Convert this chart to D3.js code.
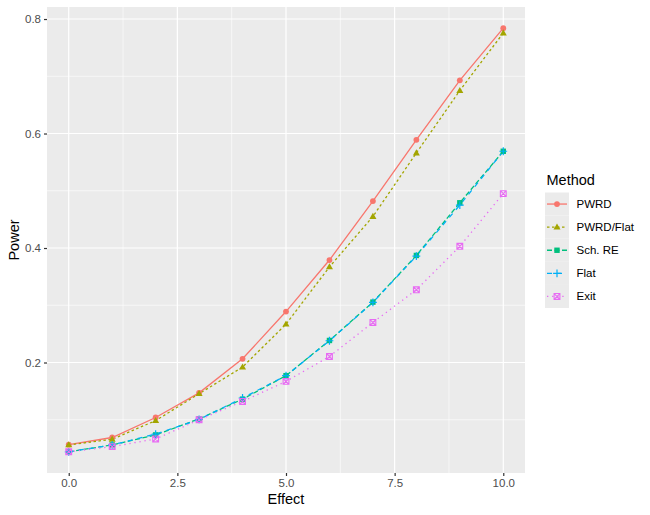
<!DOCTYPE html>
<html><head><meta charset="utf-8">
<script src="https://cdn.jsdelivr.net/npm/d3@7"></script>
<style>body{margin:0;background:#fff}svg{display:block}text{font-family:"Liberation Sans",Arial,sans-serif}</style>
</head><body><svg id="c" width="650" height="515"></svg>
<script>
const effects = [0,1,2,3,4,5,6,7,8,9,10];
const methods = ["PWRD","PWRD/Flat","Sch. RE","Flat","Exit"];
const pwrd     = [0.0565,0.069,0.104,0.147,0.2065,0.289,0.379,0.482,0.589,0.693,0.784];
const pwrdFlat = [0.056,0.066,0.0985,0.1455,0.192,0.267,0.367,0.455,0.566,0.675,0.7755];
const schRE    = [0.044,0.056,0.0735,0.1015,0.136,0.177,0.2385,0.3055,0.387,0.479,0.569];
const flat     = [0.044,0.056,0.075,0.1005,0.138,0.177,0.238,0.305,0.386,0.475,0.569];
const exitP    = [0.044,0.053,0.0665,0.100,0.132,0.167,0.2105,0.270,0.327,0.403,0.495];
const xTicks = [0,2.5,5,7.5,10];
const xTickLabels = ["0.0","2.5","5.0","7.5","10.0"];
const yTicks = [0.2,0.4,0.6,0.8];
const yTickLabels = ["0.2","0.4","0.6","0.8"];

const seriesVals = [pwrd,pwrdFlat,schRE,flat,exitP];
const colors = ["#F8766D","#A3A500","#00BF7D","#00B0F6","#E76BF3"];
const dashes = [null,"2.5,2.5","5,2.5","5,5","1.3,3.8"];
const shapes = ["circle","triangle","square","plus","squarex"];

const svg = d3.select("#c");
const L=47,R=525,T=7,B=473;
const allV = seriesVals.flat();
const vmin=d3.min(allV), vmax=d3.max(allV), pad=(vmax-vmin)*0.05;
const x = d3.scaleLinear().domain([-0.5,10.5]).range([L,R]);
const y = d3.scaleLinear().domain([vmin-pad,vmax+pad]).range([B,T]);

svg.append("rect").attr("x",L).attr("y",T).attr("width",R-L).attr("height",B-T).attr("fill","#EBEBEB");
const g = svg.append("g");
const xMinor=[1.25,3.75,6.25,8.75], yMinor=[0.1,0.3,0.5,0.7];
xMinor.forEach(v=>g.append("line").attr("x1",x(v)).attr("x2",x(v)).attr("y1",T).attr("y2",B).attr("stroke","#fff").attr("stroke-width",0.6));
yMinor.forEach(v=>g.append("line").attr("y1",y(v)).attr("y2",y(v)).attr("x1",L).attr("x2",R).attr("stroke","#fff").attr("stroke-width",0.6));
xTicks.forEach(v=>g.append("line").attr("x1",x(v)).attr("x2",x(v)).attr("y1",T).attr("y2",B).attr("stroke","#fff").attr("stroke-width",1.2));
yTicks.forEach(v=>g.append("line").attr("y1",y(v)).attr("y2",y(v)).attr("x1",L).attr("x2",R).attr("stroke","#fff").attr("stroke-width",1.2));

const xAxis = d3.axisBottom(x).tickValues(xTicks).tickFormat((d,i)=>xTickLabels[i]).tickSize(3).tickPadding(3);
const yAxis = d3.axisLeft(y).tickValues(yTicks).tickFormat((d,i)=>yTickLabels[i]).tickSize(3).tickPadding(3);
const gx = svg.append("g").attr("transform",`translate(0,${B})`).call(xAxis);
const gy = svg.append("g").attr("transform",`translate(${L},0)`).call(yAxis);
[gx,gy].forEach(a=>{a.select(".domain").remove();a.selectAll(".tick line").attr("stroke","#333333").attr("stroke-width",1.2);
 a.selectAll(".tick text").attr("fill","#4D4D4D").style("font-size","11.5px").style("font-family","Liberation Sans, Arial, sans-serif");});

svg.append("text").attr("x",(L+R)/2).attr("y",504).attr("text-anchor","middle").style("font-size","14.5px").attr("fill","#000").text("Effect");
svg.append("text").attr("transform","translate(19,240) rotate(-90)").attr("text-anchor","middle").style("font-size","14.5px").attr("fill","#000").text("Power");

function drawShape(sel,shape,color,cx,cy){
  if(shape==="circle") sel.append("circle").attr("cx",cx).attr("cy",cy).attr("r",2.9).attr("fill",color);
  else if(shape==="triangle"){const s=3.7;sel.append("path").attr("d",`M${cx},${cy-s}L${cx+s*0.95},${cy+s*0.65}L${cx-s*0.95},${cy+s*0.65}Z`).attr("fill",color);}
  else if(shape==="square") sel.append("rect").attr("x",cx-2.7).attr("y",cy-2.7).attr("width",5.4).attr("height",5.4).attr("fill",color);
  else if(shape==="plus"){const s=3.9;sel.append("path").attr("d",`M${cx-s},${cy}H${cx+s}M${cx},${cy-s}V${cy+s}`).attr("stroke",color).attr("stroke-width",1.2).attr("fill","none");}
  else if(shape==="squarex"){const s=2.9;sel.append("path").attr("d",`M${cx-s},${cy-s}H${cx+s}V${cy+s}H${cx-s}ZM${cx-s},${cy-s}L${cx+s},${cy+s}M${cx+s},${cy-s}L${cx-s},${cy+s}`).attr("stroke",color).attr("stroke-width",1.1).attr("fill","none");}
}

const line = d3.line().x((d,i)=>x(effects[i])).y(d=>y(d));
const lg = svg.append("g"), pg = svg.append("g");
seriesVals.forEach((vals,k)=>{
  const p = lg.append("path").attr("d",line(vals)).attr("fill","none").attr("stroke",colors[k]).attr("stroke-width",1.3);
  if(dashes[k]) p.attr("stroke-dasharray",dashes[k]);
});
seriesVals.forEach((vals,k)=>{
  vals.forEach((v,i)=>drawShape(pg,shapes[k],colors[k],x(effects[i]),y(v)));
});

const lx=545, ly=192.5, kh=23.1;
svg.append("text").attr("x",546.5).attr("y",185).style("font-size","14.5px").attr("fill","#000").text("Method");
methods.forEach((m,k)=>{
  const cy = ly + kh*k + kh/2;
  svg.append("rect").attr("x",lx).attr("y",ly+kh*k).attr("width",24).attr("height",kh).attr("fill","#EBEBEB");
  const p=svg.append("line").attr("x1",lx+2).attr("x2",lx+22).attr("y1",cy).attr("y2",cy).attr("stroke",colors[k]).attr("stroke-width",1.3);
  if(dashes[k]) p.attr("stroke-dasharray",dashes[k]);
  drawShape(svg,shapes[k],colors[k],lx+12,cy);
  svg.append("text").attr("x",576.5).attr("y",cy+4).style("font-size","11.5px").attr("fill","#000").text(m);
});
</script></body></html>
